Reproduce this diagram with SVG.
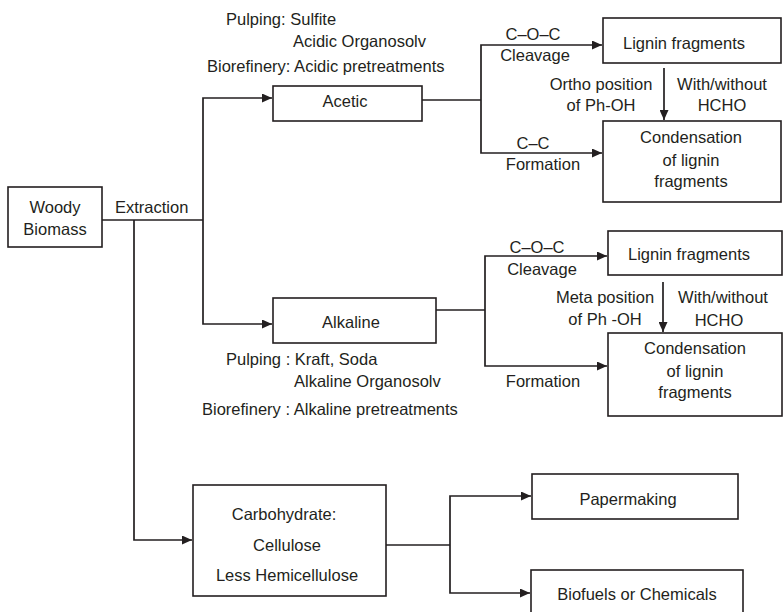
<svg xmlns="http://www.w3.org/2000/svg" width="783" height="612" viewBox="0 0 783 612">
<style>
  .box { fill: #ffffff; stroke: #231f20; stroke-width: 1.6; }
  .conn { fill: none; stroke: #231f20; stroke-width: 1.7; }
  text { font-family: "Liberation Sans", Arial, sans-serif; font-size: 16.5px; fill: #231f20; }
  .c { text-anchor: middle; }
</style>
<defs>
  <marker id="arr" markerUnits="userSpaceOnUse" markerWidth="11" markerHeight="9" refX="10" refY="4.5" orient="auto">
    <path d="M0,0 L10,4.5 L0,9 z" fill="#231f20"/>
  </marker>
</defs>
<rect width="783" height="612" fill="#ffffff"/>

<g id="connectors">
  <path class="conn" d="M102,220 H203"/>
  <path class="conn" d="M203,220 V98 H272" marker-end="url(#arr)"/>
  <path class="conn" d="M203,220 V324 H272" marker-end="url(#arr)"/>
  <path class="conn" d="M134,220 V540 H192" marker-end="url(#arr)"/>
  <path class="conn" d="M422,100 H481"/>
  <path class="conn" d="M481,100 V45 H602" marker-end="url(#arr)"/>
  <path class="conn" d="M481,100 V153 H602" marker-end="url(#arr)"/>
  <path class="conn" d="M664,68 V120" marker-end="url(#arr)"/>
  <path class="conn" d="M436,310 H485"/>
  <path class="conn" d="M485,310 V256 H607" marker-end="url(#arr)"/>
  <path class="conn" d="M485,310 V366 H607" marker-end="url(#arr)"/>
  <path class="conn" d="M663,282 V332" marker-end="url(#arr)"/>
  <path class="conn" d="M386,545 H450"/>
  <path class="conn" d="M450,545 V496 H531" marker-end="url(#arr)"/>
  <path class="conn" d="M450,545 V593 H530" marker-end="url(#arr)"/>
</g>

<g id="labels">
  <text x="115" y="213">Extraction</text>
  <text x="226" y="25">Pulping: Sulfite</text>
  <text x="293" y="47">Acidic Organosolv</text>
  <text x="207" y="72">Biorefinery: Acidic pretreatments</text>
  <text class="c" x="533" y="40">C–O–C</text>
  <text class="c" x="535" y="61">Cleavage</text>
  <text class="c" x="601" y="90">Ortho position</text>
  <text class="c" x="601" y="111">of Ph-OH</text>
  <text class="c" x="722" y="90">With/without</text>
  <text class="c" x="722" y="111">HCHO</text>
  <text class="c" x="533" y="149">C–C</text>
  <text class="c" x="543" y="170">Formation</text>
  <text class="c" x="537" y="253">C–O–C</text>
  <text class="c" x="542" y="275">Cleavage</text>
  <text class="c" x="605" y="303">Meta position</text>
  <text class="c" x="605" y="325">of Ph -OH</text>
  <text class="c" x="723" y="303">With/without</text>
  <text class="c" x="719" y="326">HCHO</text>
  <text class="c" x="543" y="387">Formation</text>
  <text x="226" y="365">Pulping : Kraft, Soda</text>
  <text x="294" y="387">Alkaline Organosolv</text>
  <text x="202" y="415">Biorefinery : Alkaline pretreatments</text>
</g>

<g id="woody">
  <rect class="box" x="8" y="187" width="94" height="60"/>
  <text class="c" x="55" y="213">Woody</text>
  <text class="c" x="55" y="235">Biomass</text>
</g>
<g id="acetic">
  <rect class="box" x="273" y="86" width="149" height="35"/>
  <text class="c" x="345" y="107">Acetic</text>
</g>
<g id="lignin1">
  <rect class="box" x="603" y="18" width="178" height="45"/>
  <text class="c" x="684" y="49">Lignin fragments</text>
</g>
<g id="condensation1">
  <rect class="box" x="603" y="121" width="178" height="81"/>
  <text class="c" x="691" y="143">Condensation</text>
  <text class="c" x="691" y="166">of lignin</text>
  <text class="c" x="691" y="187">fragments</text>
</g>
<g id="alkaline">
  <rect class="box" x="273" y="298" width="163" height="45"/>
  <text class="c" x="351" y="328">Alkaline</text>
</g>
<g id="lignin2">
  <rect class="box" x="608" y="231" width="174" height="44"/>
  <text class="c" x="689" y="260">Lignin fragments</text>
</g>
<g id="condensation2">
  <rect class="box" x="608" y="333" width="174" height="83"/>
  <text class="c" x="695" y="354">Condensation</text>
  <text class="c" x="695" y="377">of lignin</text>
  <text class="c" x="695" y="398">fragments</text>
</g>
<g id="carbohydrate">
  <rect class="box" x="193" y="485" width="193" height="111"/>
  <text class="c" x="284" y="520">Carbohydrate:</text>
  <text class="c" x="287" y="551">Cellulose</text>
  <text class="c" x="287" y="581">Less Hemicellulose</text>
</g>
<g id="papermaking">
  <rect class="box" x="532" y="474" width="206" height="45"/>
  <text class="c" x="628" y="505">Papermaking</text>
</g>
<g id="biofuels">
  <rect class="box" x="531" y="570" width="212" height="50"/>
  <text class="c" x="637" y="600">Biofuels or Chemicals</text>
</g>
</svg>
